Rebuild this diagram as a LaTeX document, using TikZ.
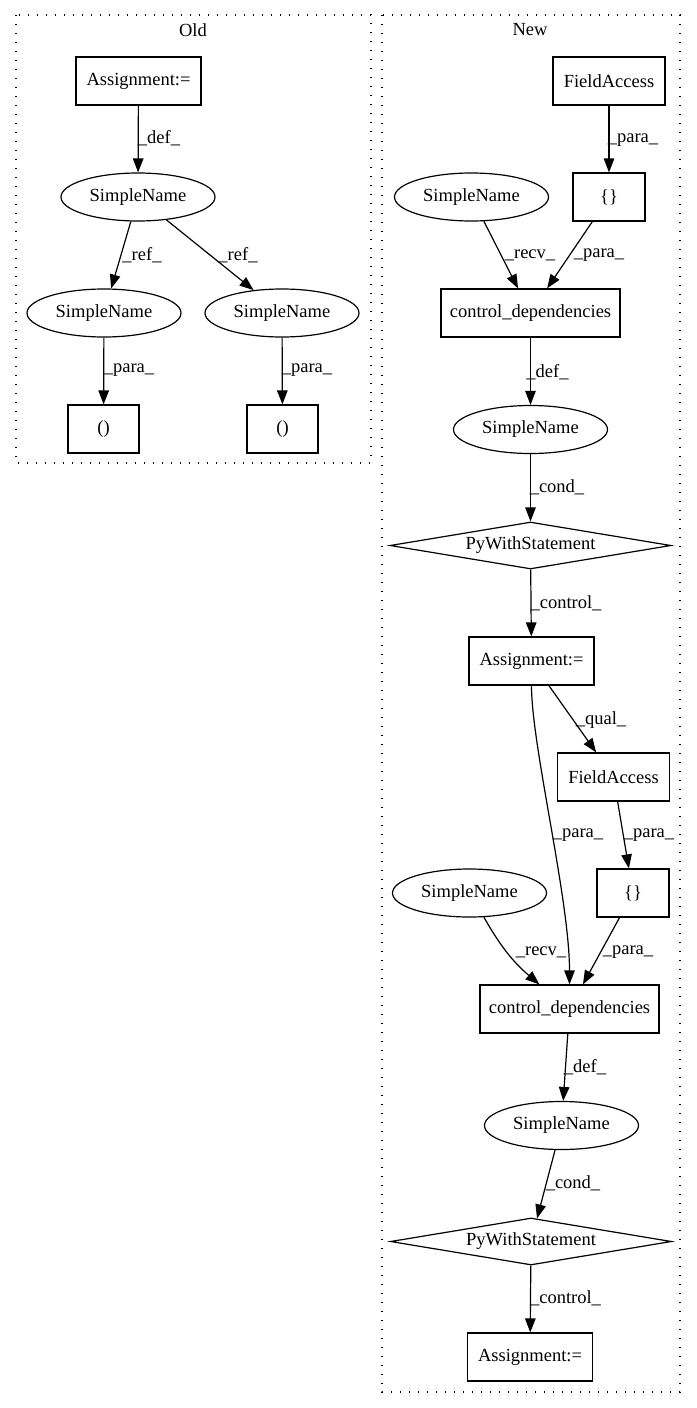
\documentclass[tikz,border=0pt]{standalone}
\usepackage{fontspec}
\setmainfont{Liberation Serif}
\usetikzlibrary{shapes.geometric,arrows.meta}
\begin{document}
\begin{tikzpicture}[x=1pt,y=-1pt,
  box/.style={rectangle,draw=black,line width=1.2pt,minimum height=48,inner sep=0,font=\fontsize{18.5}{22}\selectfont},
  ellip/.style={ellipse,draw=black,line width=1.2pt,minimum width=154,minimum height=48,inner sep=0,font=\fontsize{18.5}{22}\selectfont},
  diam/.style={diamond,draw=black,line width=1.2pt,aspect=6,minimum width=281,minimum height=47,inner sep=0,font=\fontsize{18.5}{22}\selectfont},
  lbl/.style={inner sep=0,font=\fontsize{18.5}{22}\selectfont},
  arr/.style={-{Triangle[length=14pt,width=10.5pt]},line width=1.2pt},
  clus/.style={draw=black,line width=1.3pt,dash pattern=on 1.3pt off 7.7pt}]

\useasboundingbox (0,0) rectangle (696,1408);

% Old
\draw[clus] (16,15) rectangle (371,463);
\node[lbl] (old) at (193,30) {Old};
\node[box,minimum width=125] (1) at (138.5,81) {Assignment:=};
\node[ellip] (2) at (138,197) {SimpleName};
\node[ellip] (3) at (104,313) {SimpleName};
\node[ellip] (4) at (282,313) {SimpleName};
\node[box,minimum width=71] (5) at (103.5,429) {()};
\node[box,minimum width=71] (6) at (282.5,429) {()};

\draw[arr] (1) -- (2);
\draw[arr] (2) -- (3);
\draw[arr] (2) -- (4);
\draw[arr] (3) -- (5);
\draw[arr] (4) -- (6);
\node[lbl] (l1) at (159,138) {\_def\_};
\node[lbl] (l2) at (142,255) {\_ref\_};
\node[lbl] (l3) at (238,255) {\_ref\_};
\node[lbl] (l4) at (129,370) {\_para\_};
\node[lbl] (l5) at (307,370) {\_para\_};

% New
\draw[clus] (382,15) rectangle (680,1392);
\node[lbl] (new) at (530,30) {New};
\node[box,minimum width=112] (7) at (609,81) {FieldAccess};
\node[box,minimum width=72] (8) at (609,197) {\{\}};
\node[ellip] (9) at (471.5,197) {SimpleName};
\node[box,minimum width=179] (10) at (530.5,313) {control\_dependencies};
\node[ellip] (11) at (530.5,429.5) {SimpleName};
\node[diam] (12) at (530.5,545.5) {PyWithStatement};
\node[box,minimum width=125] (13) at (531.5,661) {Assignment:=};
\node[box,minimum width=112] (14) at (613.5,777) {FieldAccess};
\node[box,minimum width=72] (15) at (633,893) {\{\}};
\node[ellip] (16) at (469.5,893) {SimpleName};
\node[box,minimum width=179] (17) at (569.5,1009) {control\_dependencies};
\node[ellip] (18) at (561.5,1125.5) {SimpleName};
\node[diam] (19) at (531,1241.5) {PyWithStatement};
\node[box,minimum width=125] (20) at (530,1357) {Assignment:=};

\draw[arr] (7) -- (8);
\draw[arr] (9) -- (10);
\draw[arr] (8) -- (10);
\draw[arr] (10) -- (11);
\draw[arr] (11) -- (12);
\draw[arr] (12) -- (13);
\draw[arr] (13) -- (14);
\draw[arr] (13) .. controls +(0,85) and +(0,-110) .. (17);
\draw[arr] (14) -- (15);
\draw[arr] (16) to[bend right=10] (17);
\draw[arr] (15) -- (17);
\draw[arr] (17) -- (18);
\draw[arr] (18) -- (19);
\draw[arr] (19) -- (20);
\node[lbl] (l6) at (633,140) {\_para\_};
\node[lbl] (l7) at (530,255) {\_recv\_};
\node[lbl] (l8) at (599,255) {\_para\_};
\node[lbl] (l9) at (547.5,372) {\_def\_};
\node[lbl] (l10) at (557,487) {\_cond\_};
\node[lbl] (l11) at (566,603) {\_control\_};
\node[lbl] (l12) at (601,720) {\_qual\_};
\node[lbl] (l13) at (578,835) {\_para\_};
\node[lbl] (l14) at (649,835) {\_para\_};
\node[lbl] (l15) at (541,952) {\_recv\_};
\node[lbl] (l16) at (628,952) {\_para\_};
\node[lbl] (l17) at (585,1067) {\_def\_};
\node[lbl] (l18) at (573,1183) {\_cond\_};
\node[lbl] (l19) at (565.5,1298) {\_control\_};

\end{tikzpicture}
\end{document}
